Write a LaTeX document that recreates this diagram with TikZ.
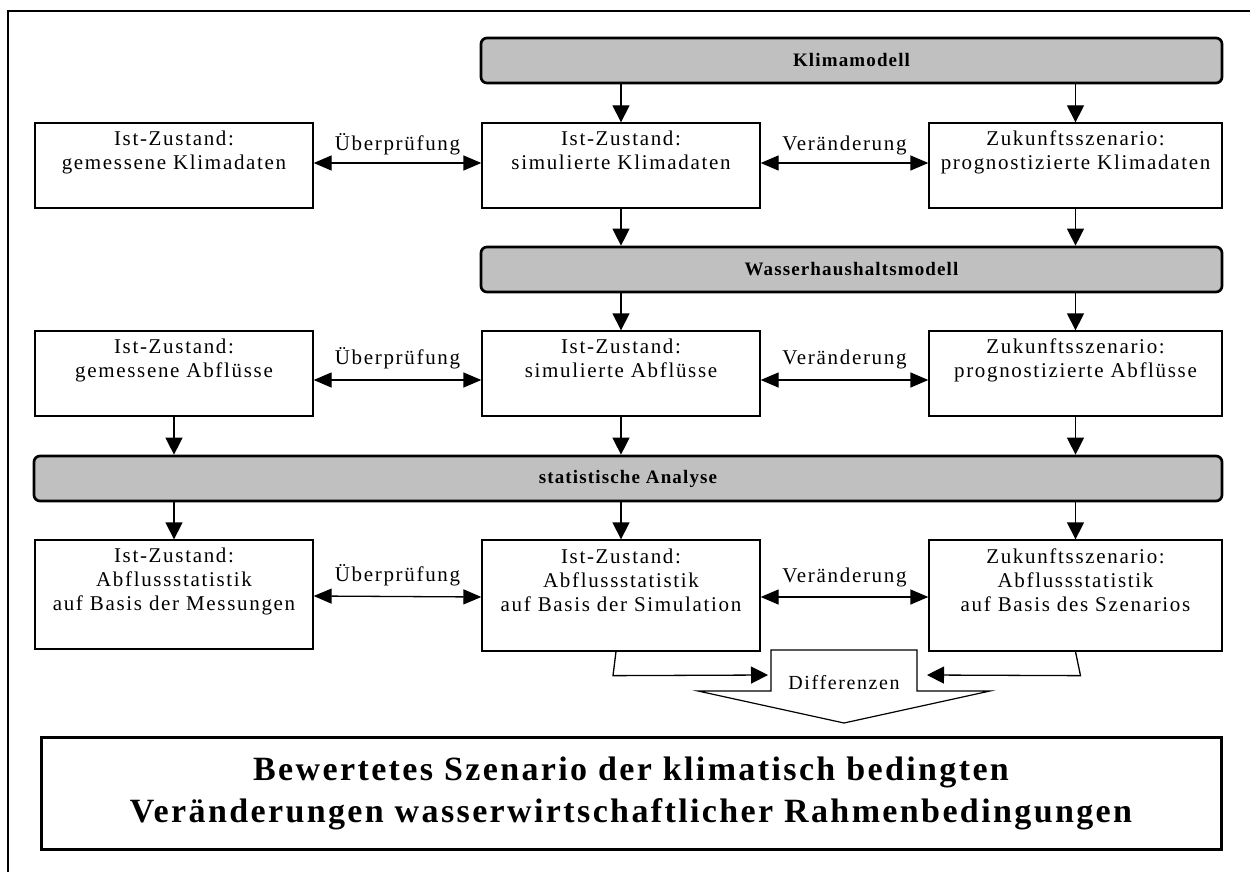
\documentclass[tikz,border=0pt]{standalone}
\usepackage{fontspec}
\setmainfont{Liberation Serif}
\newfontfamily\boxfont{Liberation Serif}[LetterSpace=8]
\newfontfamily\barfont{Liberation Serif}[LetterSpace=6]
\newfontfamily\titlefont{Liberation Serif}[LetterSpace=7]
\usetikzlibrary{arrows.meta,calc}
\definecolor{bargray}{HTML}{C0C0C0}
\tikzset{
  box/.style={draw, line width=1.3pt, fill=white, inner sep=0pt, align=center,
    font={\boxfont\fontsize{21}{24}\selectfont}},
  bar/.style={draw, line width=2.7pt, fill=bargray, rounded corners=6pt,
    inner sep=0pt, minimum height=45pt, font={\barfont\bfseries\fontsize{19}{22}\selectfont}},
  arr/.style={line width=1.3pt, -{Triangle[length=17pt,width=17pt]}},
  dbl/.style={line width=1.3pt, {Triangle[length=18pt,width=15pt]}-{Triangle[length=18pt,width=15pt]}},
  lbl/.style={anchor=base, inner sep=0pt, font={\boxfont\fontsize{21}{24}\selectfont}},
}
\begin{document}
\begin{tikzpicture}[x=1pt,y=-1pt]
\useasboundingbox (0,0) rectangle (1250,872);
% outer frame
\draw[line width=1.1pt] (8,872) -- (8,11) -- (1250,11);

% model bars
\node[bar, minimum width=741pt] (klima) at (851.5,60.5) {Klimamodell};
\node[bar, minimum width=741pt] (wasser) at (851.5,269.5) {Wasserhaushaltsmodell};
\node[bar, minimum width=1188pt] (stat) at (628,478.5) {statistische Analyse};

% row 1: climate data
\node[box, minimum width=278pt, minimum height=85pt] (l1) at (174,165.5)
  {Ist-Zustand:\\gemessene Klimadaten\\\strut};
\node[box, minimum width=278pt, minimum height=85pt] (m1) at (621,165.5)
  {Ist-Zustand:\\simulierte Klimadaten\\\strut};
\node[box, minimum width=293pt, minimum height=85pt] (r1) at (1075.5,165.5)
  {Zukunftsszenario:\\prognostizierte Klimadaten\\\strut};

% row 2: discharge
\node[box, minimum width=278pt, minimum height=85pt] (l2) at (174,373.5)
  {Ist-Zustand:\\gemessene Abflüsse\\\strut};
\node[box, minimum width=278pt, minimum height=85pt] (m2) at (621,373.5)
  {Ist-Zustand:\\simulierte Abflüsse\\\strut};
\node[box, minimum width=293pt, minimum height=85pt] (r2) at (1075.5,373.5)
  {Zukunftsszenario:\\prognostizierte Abflüsse\\\strut};

% row 3: discharge statistics
\node[box, minimum width=278pt, minimum height=109pt] (l3) at (174,594.5)
  {Ist-Zustand:\\Abflussstatistik\\auf Basis der Messungen\\\strut};
\node[box, minimum width=278pt, minimum height=111pt] (m3) at (621,595.5)
  {Ist-Zustand:\\Abflussstatistik\\auf Basis der Simulation\\\strut};
\node[box, minimum width=293pt, minimum height=111pt] (r3) at (1075.5,595.5)
  {Zukunftsszenario:\\Abflussstatistik\\auf Basis des Szenarios\\\strut};

% result box
\node[draw, line width=3pt, fill=white, inner sep=0pt, minimum width=1180pt,
  minimum height=112pt, align=center,
  font={\titlefont\bfseries\fontsize{34}{42}\selectfont}] (result) at (631,793)
  {Bewertetes Szenario der klimatisch bedingten\\Veränderungen wasserwirtschaftlicher Rahmenbedingungen};

% differences arrow
\draw[line width=1.2pt, fill=white] (771,650) -- (917,650) -- (917,691) -- (990,691)
  -- (844,723) -- (698,691) -- (771,691) -- cycle;
\node[lbl, font={\boxfont\fontsize{20}{24}\selectfont}] (diff) at (844,689) {Differenzen};
\coordinate (dl) at (768,675);
\coordinate (dr) at (927,675);

% vertical flow
\draw[arr] (klima.south -| m1.north) -- (m1.north);
\draw[arr] (klima.south -| r1.north) -- (r1.north);
\draw[arr] (m1.south) -- (m1.south |- wasser.north);
\draw[arr] (r1.south) -- (r1.south |- wasser.north);
\draw[arr] (wasser.south -| m2.north) -- (m2.north);
\draw[arr] (wasser.south -| r2.north) -- (r2.north);
\draw[arr] (l2.south) -- (l2.south |- stat.north);
\draw[arr] (m2.south) -- (m2.south |- stat.north);
\draw[arr] (r2.south) -- (r2.south |- stat.north);
\draw[arr] (stat.south -| l3.north) -- (l3.north);
\draw[arr] (stat.south -| m3.north) -- (m3.north);
\draw[arr] (stat.south -| r3.north) -- (r3.north);

% comparisons
\draw[dbl] ([yshift=2.5pt]l1.east) -- ([yshift=2.5pt]m1.west)
  node[lbl, midway, yshift=13pt] {Überprüfung};
\draw[dbl] ([yshift=2.5pt]m1.east) -- ([yshift=2.5pt]r1.west)
  node[lbl, midway, yshift=13pt] {Veränderung};
\draw[dbl] ([yshift=-6.5pt]l2.east) -- ([yshift=-6.5pt]m2.west)
  node[lbl, midway, yshift=16pt] {Überprüfung};
\draw[dbl] ([yshift=-6.5pt]m2.east) -- ([yshift=-6.5pt]r2.west)
  node[lbl, midway, yshift=16pt] {Veränderung};
\draw[dbl] ([yshift=-1.5pt]l3.east) -- ([yshift=-1.5pt]m3.west)
  node[lbl, midway, yshift=15pt] {Überprüfung};
\draw[dbl] ([yshift=-1.5pt]m3.east) -- ([yshift=-1.5pt]r3.west)
  node[lbl, midway, yshift=15pt] {Veränderung};

% differences feeders
\draw[arr] ([xshift=-5pt]m3.south) -- ++(-3,24) -- (dl);
\draw[arr] (r3.south) -- ++(5,24) -- (dr);
\end{tikzpicture}
\end{document}
